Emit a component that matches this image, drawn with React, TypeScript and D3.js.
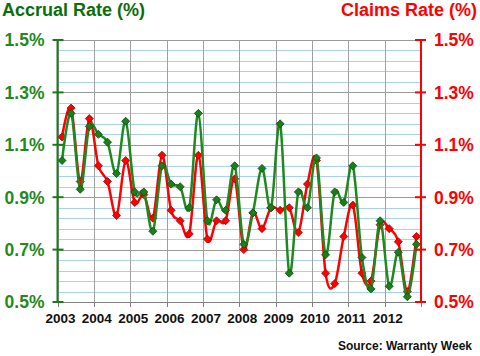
import React from "react";
import * as d3 from "d3";

const years = [2003, 2004, 2005, 2006, 2007, 2008, 2009, 2010, 2011, 2012];
const accrual = [
  1.04, 1.22, 0.93, 1.17,
  1.14, 1.11, 0.99, 1.19,
  0.92, 0.92, 0.77, 1.02,
  0.95, 0.94, 0.86, 1.22,
  0.81, 0.89, 0.85, 1.02,
  0.72, 0.84, 1.01, 0.86,
  1.18, 0.61, 0.92, 0.86,
  1.05, 0.68, 0.92, 0.88,
  1.02, 0.67, 0.55, 0.81,
  0.56, 0.69, 0.52, 0.72,
];
const claims = [
  1.13, 1.24, 0.96, 1.2,
  1.02, 0.96, 0.83, 1.04,
  0.88, 0.91, 0.82, 1.06,
  0.85, 0.81, 0.76, 1.06,
  0.74, 0.81, 0.81, 0.97,
  0.7, 0.84, 0.78, 0.86,
  0.85, 0.86, 0.765, 0.95,
  1.04, 0.61, 0.57, 0.75,
  0.87, 0.61, 0.58, 0.795,
  0.78, 0.73, 0.54, 0.75,
];
const yTicks = [0.5, 0.7, 0.9, 1.1, 1.3, 1.5];

const W = 480, H = 356;
const L = 57.5, R = 421, T = 40, B = 302;
const FONT = "'Liberation Sans', Arial, sans-serif";
const GREEN_TXT = "#1f8a1f";
const GREEN_LINE = "#1e8a1e";
const GREEN_DARK = "#0b4d0b";
const RED = "#ff0000";
const RED_DARK = "#a00000";

export default function App() {
  const x = d3.scaleLinear().domain([2003, 2013]).range([L, R]);
  const y = d3.scaleLinear().domain([0.5, 1.5]).range([B, T]);
  const qx = (i: number) => x(2003 + (i + 0.5) / 4);

  const minor = d3.range(0, 26).map((k) => 0.5 + k * 0.04).filter((v) => v < 1.5 + 1e-9);
  const line = d3
    .line<number>()
    .x((_, i) => qx(i))
    .y((d) => y(d))
    .curve(d3.curveCardinal.tension(0));

  const diamond = (cx: number, cy: number, r: number) =>
    `M${cx},${cy - r}L${cx + r},${cy}L${cx},${cy + r}L${cx - r},${cy}Z`;

  const yearTicks = d3.range(2003, 2014);

  return (
    <svg
      width={W}
      height={H}
      style={{ position: "absolute", left: 0, top: 0, background: "#fff" }}
      fontFamily={FONT}
    >
      <rect x={0} y={0} width={W} height={H} fill="#fff" />
      {minor.map((v, k) => (
        <line key={"m" + k} x1={L} x2={R} y1={Math.round(y(v)) + 0.5} y2={Math.round(y(v)) + 0.5} stroke="#a8d0f5" strokeWidth={1} />
      ))}
      {yTicks.map((v) => (
        <line key={"g" + v} x1={L} x2={R} y1={Math.round(y(v)) + 0.5} y2={Math.round(y(v)) + 0.5} stroke="#9a9a9a" strokeWidth={1} />
      ))}
      {yearTicks.map((yr) => (
        <line key={"v" + yr} x1={Math.round(x(yr)) + 0.5} x2={Math.round(x(yr)) + 0.5} y1={T} y2={B} stroke="#a0a0a0" strokeWidth={1} />
      ))}
      <line x1={L} x2={R} y1={B + 0.5} y2={B + 0.5} stroke="#808080" strokeWidth={1} />
      {yearTicks.map((yr) => (
        <line key={"t" + yr} x1={Math.round(x(yr)) + 0.5} x2={Math.round(x(yr)) + 0.5} y1={B} y2={B + 5} stroke="#808080" strokeWidth={1} />
      ))}
      {years.map((yr) => (
        <text key={"yl" + yr} x={x(yr) + 3} y={323} textAnchor="middle" fontSize={13.5} fontWeight="bold" fill="#111">
          {yr}
        </text>
      ))}
      <path d={line(claims) || ""} fill="none" stroke={RED} strokeWidth={2.5} />
      {claims.map((v, i) => (
        <path key={"r" + i} d={diamond(qx(i), y(v), 4)} fill={RED} stroke={RED_DARK} strokeWidth={0.8} />
      ))}
      <path d={line(accrual) || ""} fill="none" stroke={GREEN_LINE} strokeWidth={2.5} />
      {accrual.map((v, i) => (
        <path key={"a" + i} d={diamond(qx(i), y(v), 4)} fill="#1a7f1a" stroke={GREEN_DARK} strokeWidth={0.8} />
      ))}
      <line x1={L} x2={L} y1={T} y2={B} stroke="#1a7a1a" strokeWidth={2} />
      {yTicks.map((v) => (
        <line key={"lt" + v} x1={L - 5} x2={L + 6} y1={y(v)} y2={y(v)} stroke="#1a7a1a" strokeWidth={2} />
      ))}
      {yTicks.map((v) => (
        <text key={"ll" + v} x={44.5} y={y(v)} dy="0.36em" textAnchor="end" fontSize={17.5} fontWeight="bold" fill={GREEN_TXT}>
          {v.toFixed(1)}%
        </text>
      ))}
      <line x1={R} x2={R} y1={T} y2={B} stroke={RED} strokeWidth={2} />
      {yTicks.map((v) => (
        <line key={"rt" + v} x1={R - 6} x2={R + 5} y1={y(v)} y2={y(v)} stroke={RED} strokeWidth={2} />
      ))}
      {yTicks.map((v) => (
        <text key={"rl" + v} x={434} y={y(v)} dy="0.36em" textAnchor="start" fontSize={17.5} fontWeight="bold" fill={RED}>
          {v.toFixed(1)}%
        </text>
      ))}
      <text x={2} y={16} fontSize={18} fontWeight="bold" fill="#0a6e0a">
        Accrual Rate (%)
      </text>
      <text x={477} y={16} textAnchor="end" fontSize={18} fontWeight="bold" fill={RED}>
        Claims Rate (%)
      </text>
      <text x={472} y={350} textAnchor="end" fontSize={12} fontWeight="bold" fill="#111">
        Source: Warranty Week
      </text>
    </svg>
  );
}
